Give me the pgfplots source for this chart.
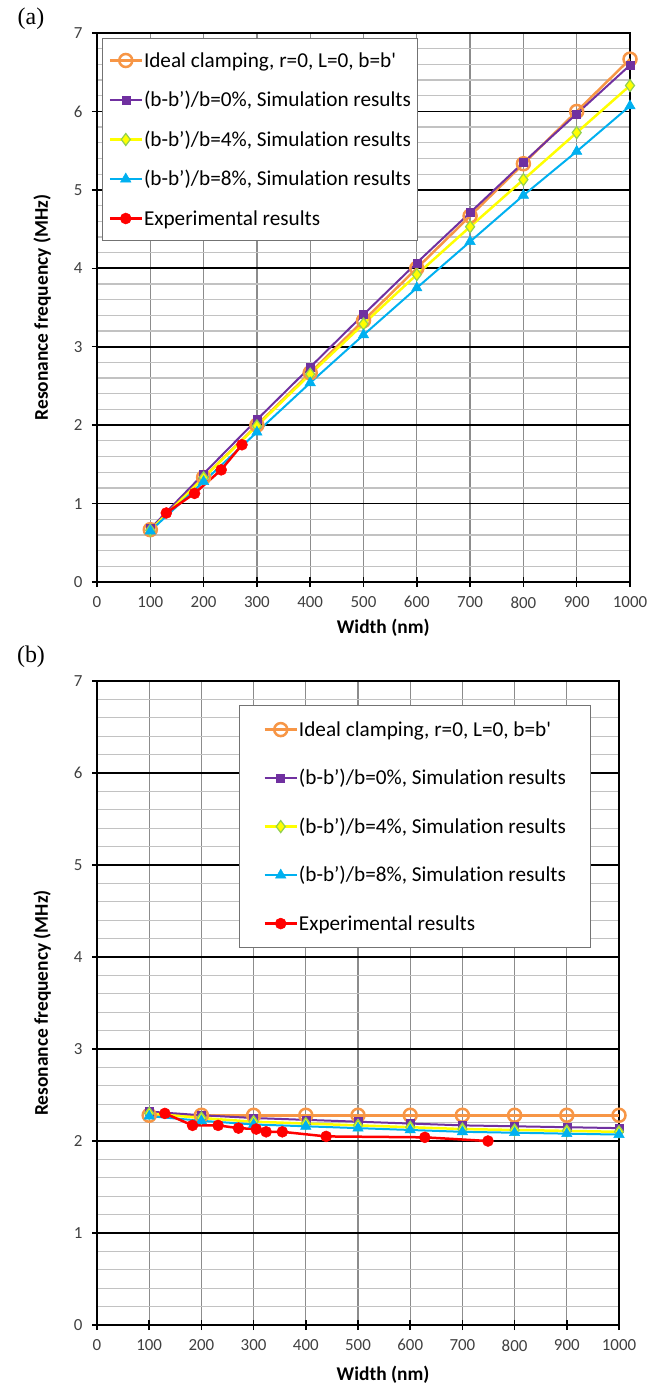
\documentclass[border=0pt]{standalone}
\usepackage{fontspec}
\setmainfont{Carlito}[Ligatures={NoCommon,NoContextual}]
\newfontfamily\plainf{Carlito}
\newfontfamily\timesf{Liberation Serif}
\usepackage{pgfplots}
\pgfplotsset{compat=1.18}
\definecolor{cOr}{HTML}{F79646}
\definecolor{cPu}{HTML}{7030A0}
\definecolor{cYe}{HTML}{FFFF00}
\definecolor{cGr}{HTML}{92D050}
\definecolor{cBl}{HTML}{00B0F0}
\definecolor{cRe}{HTML}{FF0000}
\definecolor{cTk}{HTML}{404040}
\pgfplotsset{
  excel/.style={
    scale only axis, anchor=south west,
    xmin=0, xmax=1000, ymin=0, ymax=7,
    xtick={0,100,...,1000}, ytick={0,1,...,7},
    minor y tick num=4,
    xmajorgrids, ymajorgrids, yminorgrids,
    major x grid style={color=black!45, line width=1.3bp},
    major y grid style={color=black, line width=1.8bp},
    minor y grid style={color=black!24, line width=1.3bp},
    axis line style={black, line width=1.8bp},
    tick pos=left, tick align=center,
    major tick length=10bp, minor tick length=0bp,
    major tick style={black, line width=1.5bp},
    /pgf/number format/assume math mode=true,
    /pgf/number format/1000 sep={},
    ticklabel style={font=\fontsize{17}{17}\selectfont, text=cTk},
    yticklabel style={xshift=-6bp},
    xticklabel style={yshift=-6bp},
    xlabel={Width (nm)},
    ylabel={Resonance frequency (MHz)},
    legend cell align=left,
    legend image code/.code={\draw[mark repeat=2,mark phase=2,##1] plot coordinates {(0bp,0bp) (16bp,0bp) (32bp,0bp)};},
  },
  sIdeal/.style={color=cOr, line width=2.5bp, mark=o, mark size=6.5bp, mark options={line width=2.5bp}},
  sZero/.style={color=cPu, line width=2bp, mark=square*, mark size=4bp, mark options={line width=0.5bp}},
  sFour/.style={color=cYe, line width=2.5bp, mark=diamond*, mark size=6bp, mark options={draw=cGr, fill=cYe, line width=1.2bp}},
  sEight/.style={color=cBl, line width=2bp, mark=triangle*, mark size=6bp, mark options={line width=0.5bp}},
  sExp/.style={color=cRe, line width=2.5bp, mark=*, mark size=5.5bp, mark options={line width=0.5bp}},
}
\newcommand\labfont{\bfseries\fontsize{19.5}{20}\selectfont}
\newcommand\idealtxt{Ideal clamping, r=0, L=0, b=b{\plainf '}}
\begin{document}
\begin{tikzpicture}
\useasboundingbox (0bp,0bp) rectangle (672bp,-1390bp);
\node[font=\timesf\fontsize{24}{24}\selectfont] at (31bp,-19bp) {(a)};
\node[font=\timesf\fontsize{24}{24}\selectfont] at (31bp,-657bp) {(b)};
% ---------------- panel (a)
\begin{axis}[excel, at={(97bp,-582bp)}, width=533bp, height=549bp,
  every axis x label/.style={at={(axis description cs:0.537,-0.084)}, anchor=center, font=\labfont},
  every axis y label/.style={at={(axis description cs:-0.103,0.5)}, rotate=90, anchor=center, font=\labfont},
  legend style={at={(axis description cs:0.0094,0.991)}, anchor=north west,
    draw=black!55, line width=1bp, fill=white,
    font=\fontsize{21.3}{21.3}\selectfont,
    inner xsep=6bp, inner ysep=2.3bp, row sep=0bp,
    nodes={inner sep=1bp, text height=25.6bp, text depth=11.9bp}},
]
\addplot[sIdeal] coordinates {(100,0.667) (200,1.333) (300,2.0) (400,2.667) (500,3.333) (600,4.0) (700,4.667) (800,5.333) (900,6.0) (1000,6.667)};
\addplot[sZero] coordinates {(100,0.68) (200,1.38) (300,2.07) (400,2.74) (500,3.41) (600,4.07) (700,4.71) (800,5.35) (900,5.97) (1000,6.59)};
\addplot[sFour] coordinates {(100,0.66) (200,1.33) (300,1.99) (400,2.65) (500,3.29) (600,3.92) (700,4.53) (800,5.13) (900,5.73) (1000,6.33)};
\addplot[sEight] coordinates {(100,0.65) (200,1.28) (300,1.91) (400,2.54) (500,3.15) (600,3.75) (700,4.34) (800,4.93) (900,5.49) (1000,6.07)};
\addplot[sExp] coordinates {(130,0.88) (183,1.13) (233,1.43) (272,1.75)};
\legend{{\idealtxt},{(b-b’)/b=0\%, Simulation results},{(b-b’)/b=4\%, Simulation results},{(b-b’)/b=8\%, Simulation results},{Experimental results}}
\end{axis}
% ---------------- panel (b)
\begin{axis}[excel, at={(97bp,-1325bp)}, width=522bp, height=644bp,
  every axis x label/.style={at={(axis description cs:0.548,-0.078)}, anchor=center, font=\labfont},
  every axis y label/.style={at={(axis description cs:-0.105,0.5)}, rotate=90, anchor=center, font=\labfont},
  legend style={at={(axis description cs:0.272,0.963)}, anchor=north west,
    draw=black!55, line width=1bp, fill=white,
    font=\fontsize{21.3}{21.3}\selectfont,
    inner xsep=24bp, inner ysep=0bp, row sep=0bp,
    nodes={inner sep=1bp, text height=30.1bp, text depth=16.4bp}},
]
\addplot[sIdeal] coordinates {(100,2.28) (200,2.28) (300,2.28) (400,2.28) (500,2.28) (600,2.28) (700,2.28) (800,2.28) (900,2.28) (1000,2.28)};
\addplot[sZero] coordinates {(100,2.32) (200,2.28) (300,2.25) (400,2.23) (500,2.21) (600,2.19) (700,2.17) (800,2.16) (900,2.15) (1000,2.14)};
\addplot[sFour] coordinates {(100,2.30) (200,2.25) (300,2.21) (400,2.19) (500,2.17) (600,2.15) (700,2.13) (800,2.12) (900,2.11) (1000,2.10)};
\addplot[sEight] coordinates {(100,2.27) (200,2.22) (300,2.18) (400,2.16) (500,2.14) (600,2.12) (700,2.10) (800,2.09) (900,2.08) (1000,2.07)};
\addplot[sExp] coordinates {(130,2.30) (183,2.17) (232,2.17) (271,2.14) (305,2.13) (324,2.10) (355,2.10) (439,2.05) (628,2.04) (749,2.00)};
\legend{{\idealtxt},{(b-b’)/b=0\%, Simulation results},{(b-b’)/b=4\%, Simulation results},{(b-b’)/b=8\%, Simulation results},{Experimental results}}
\end{axis}
\end{tikzpicture}
\end{document}
